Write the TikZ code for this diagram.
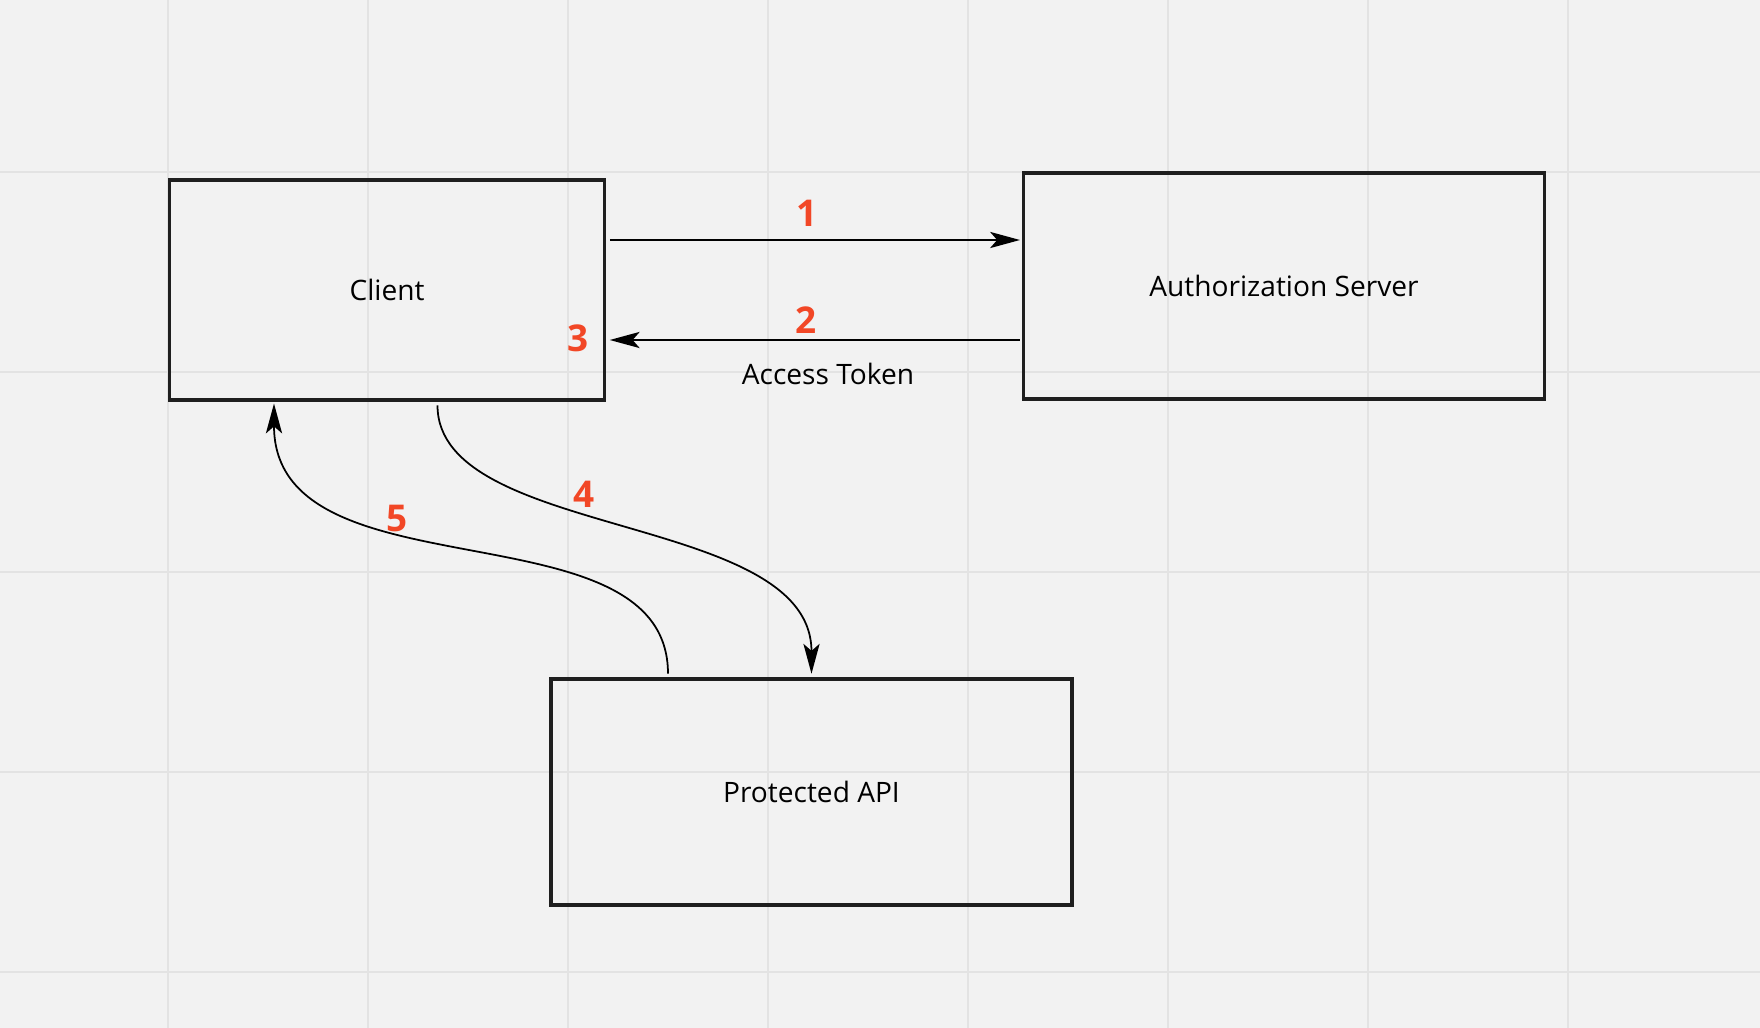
\documentclass[tikz,border=0pt]{standalone}
\usepackage{fontspec}
\setmainfont{Open Sans}
\usepackage{xcolor}
\usetikzlibrary{calc,arrows.meta}
\definecolor{boardbg}{HTML}{F2F2F2}
\definecolor{gridline}{HTML}{E3E3E3}
\definecolor{stepred}{HTML}{F24726}

\begin{document}
\begin{tikzpicture}[
  box/.style={draw=black!88, line width=1pt, minimum width=#1, minimum height=2.26cm, font=\fontsize{8}{10}\selectfont},
  flow/.style={line width=0.5pt, -{Stealth[length=8.5pt,width=4.6pt,inset=2pt]}},
  num/.style={text=stepred, font=\fontsize{10.5}{12}\bfseries\selectfont},
  lbl/.style={font=\fontsize{8}{10}\selectfont}
]
\useasboundingbox (0,0) rectangle (17.6,-10.28);
\fill[boardbg] (0,0) rectangle (17.6,-10.28);
% grid of the board
\foreach \gx in {1.68,3.68,...,15.7}
  \draw[gridline, line width=0.45pt] (\gx,0) -- (\gx,-10.28);
\foreach \gy in {-1.72,-3.72,...,-9.8}
  \draw[gridline, line width=0.45pt] (0,\gy) -- (17.6,\gy);

\node[box=4.35cm, minimum height=2.2cm] (client) at (3.87,-2.9){Client};
\node[box=5.21cm] (auth) at (12.84,-2.86){Authorization Server};
\node[box=5.21cm] (api) at (8.115,-7.92){Protected API};

\draw[flow] ([xshift=1pt,yshift=0.5cm]client.east) -- ([xshift=-0.5pt,yshift=0.5cm]client.east -| auth.west);
\draw[flow] ([xshift=-0.5pt,yshift=-0.5cm]client.east -| auth.west) -- ([xshift=1pt,yshift=-0.5cm]client.east);
\draw[flow] ([xshift=0.505cm,yshift=-1pt]client.south) .. controls +(0,-1.35) and +(0,1.62) .. ([yshift=1pt]api.north);
\draw[flow] ([xshift=-1.435cm,yshift=1pt]api.north) .. controls +(0,1.73) and +(0,-1.97) .. ([xshift=-1.13cm,yshift=-0.5pt]client.south);

\node[num] at (8.07,-2.13){1};
\node[num] at (8.06,-3.2){2};
\node[num] at (5.78,-3.38){3};
\node[lbl] at (8.28,-3.74){Access Token};
\node[num] at (5.84,-4.94){4};
\node[num] at (3.97,-5.19){5};
\end{tikzpicture}
\end{document}
